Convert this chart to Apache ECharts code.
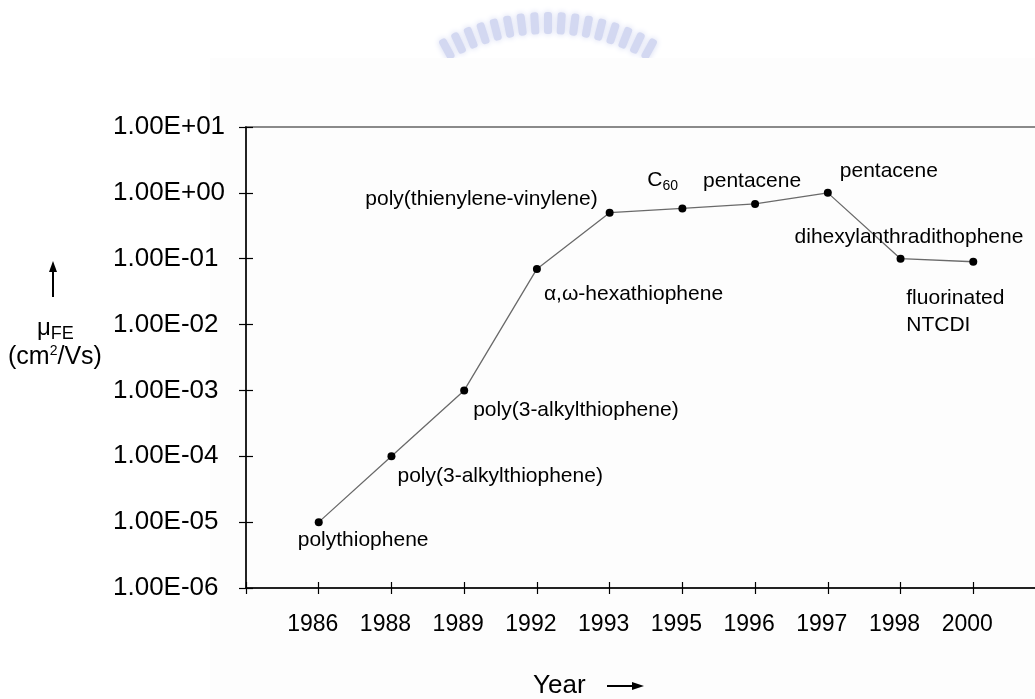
<!DOCTYPE html>
<html>
<head>
<meta charset="utf-8">
<script src="https://cdn.jsdelivr.net/npm/echarts@6/dist/echarts.min.js"></script>
<style>
  html, body { margin: 0; padding: 0; background: #ffffff; }
  #chart { width: 1035px; height: 699px; }
</style>
</head>
<body>
<div id="chart"></div>
<script>
// Field-effect mobility of organic semiconductors by year of report
const years = ['1986', '1988', '1989', '1992', '1993', '1995', '1996', '1997', '1998', '2000'];
const mobility = [1e-5, 1e-4, 1e-3, 0.07, 0.5, 0.58, 0.68, 1.0, 0.1, 0.09];
const compounds = [
  'polythiophene',
  'poly(3-alkylthiophene)',
  'poly(3-alkylthiophene)',
  'α,ω-hexathiophene',
  'poly(thienylene-vinylene)',
  'C{sub|60}',
  'pentacene',
  'pentacene',
  'dihexylanthradithophene',
  'fluorinated\nNTCDI'
];

// where each compound name sits relative to its point: [align, dx, dy]
const labelPlacement = [
  ['left', -21, 18],
  ['left', 6, 20],
  ['left', 9, 20],
  ['left', 7, 25],
  ['right', -12, -13],
  ['left', -35, -28],
  ['center', -3, -23],
  ['left', 12, -22],
  ['left', -106, -22],
  ['left', -67, 50]
];

const FONT = '"Liberation Sans", Arial, sans-serif';

function sciLabel(v) {
  return v.toExponential(2).toUpperCase().replace(/E([+-])(\d)$/, 'E$10$2');
}

const points = years.map((y, i) => {
  const p = labelPlacement[i];
  return {
    value: [i + 1, mobility[i]],
    label: {
      show: true,
      position: 'inside',
      formatter: compounds[i],
      align: p[0],
      verticalAlign: 'middle',
      offset: [p[1], p[2]],
      fontFamily: FONT,
      fontSize: 21,
      lineHeight: 27,
      color: '#000',
      rich: {
        sub: { fontFamily: FONT, fontSize: 14, padding: [12, 0, 0, 0], color: '#000' }
      }
    }
  };
});

// faint crest of bars above the chart
const crest = [];
for (let k = -8; k <= 8; k++) {
  const a = k * 3.6 * Math.PI / 180;
  crest.push({
    type: 'rect',
    x: 548 + 210 * Math.sin(a),
    y: 233 - 210 * Math.cos(a),
    rotation: -a,
    shape: { x: -4, y: -11, width: 8, height: 22, r: 3 },
    style: { fill: '#d3d8f1', shadowBlur: 6, shadowColor: '#d3d8f1' },
    z: -20,
    silent: true
  });
}

const chart = echarts.init(document.getElementById('chart'), null, { renderer: 'canvas' });

const xBase = {
  type: 'value',
  min: 0,
  max: 11,
  interval: 1,
  position: 'bottom',
  splitLine: { show: false }
};
const yBase = {
  type: 'log',
  logBase: 10,
  min: 1e-6,
  max: 10,
  splitNumber: 7,
  position: 'left',
  splitLine: { show: false }
};

chart.setOption({
  animation: false,
  backgroundColor: '#ffffff',
  grid: {
    left: 246, top: 127, width: 800, bottom: 111,
    containLabel: false,
    outerBoundsMode: 'none',
    show: true, borderColor: '#8a8a8a', borderWidth: 2, backgroundColor: 'transparent'
  },
  xAxis: [
    Object.assign({}, xBase, {
      axisLine: { show: true, lineStyle: { color: '#000', width: 1.5 } },
      axisTick: { show: true, inside: false, length: 6, lineStyle: { color: '#000', width: 1.2 } },
      axisLabel: {
        show: true,
        margin: 25,
        padding: [0, 12, 0, 0],
        fontFamily: FONT,
        fontSize: 23,
        color: '#000',
        formatter: v => years[v - 1] || ''
      }
    }),
    Object.assign({}, xBase, {
      axisLine: { show: false },
      axisTick: { show: true, inside: true, length: 6, lineStyle: { color: '#000', width: 1.2 } },
      axisLabel: { show: false }
    })
  ],
  yAxis: [
    Object.assign({}, yBase, {
      axisLine: { show: true, lineStyle: { color: '#000', width: 1.5 } },
      axisTick: { show: true, inside: false, length: 7, lineStyle: { color: '#000', width: 1.2 } },
      axisLabel: {
        show: true,
        margin: 133,
        align: 'left',
        padding: [6, 0, 0, 0],
        fontFamily: FONT,
        fontSize: 26,
        color: '#000',
        formatter: sciLabel
      }
    }),
    Object.assign({}, yBase, {
      axisLine: { show: false },
      axisTick: { show: true, inside: true, length: 7, lineStyle: { color: '#000', width: 1.2 } },
      axisLabel: { show: false }
    })
  ],
  series: [{
    type: 'line',
    xAxisIndex: 0,
    yAxisIndex: 0,
    data: points,
    symbol: 'circle',
    symbolSize: 8,
    itemStyle: { color: '#000' },
    lineStyle: { color: '#6a6a6a', width: 1.3 },
    emphasis: { disabled: true },
    z: 5
  }],
  graphic: crest.concat([
    {
      type: 'rect', silent: true, z: -10,
      shape: { x: 210, y: 58, width: 825, height: 641 },
      style: { fill: '#fdfdfd' }
    },
    // y-axis title: upward arrow, μFE and units
    {
      type: 'line', silent: true, z: 10,
      shape: { x1: 53, y1: 297, x2: 53, y2: 270 },
      style: { stroke: '#000', lineWidth: 2 }
    },
    {
      type: 'polygon', silent: true, z: 10,
      shape: { points: [[53, 261], [49, 272], [57, 272]] },
      style: { fill: '#000' }
    },
    {
      type: 'text', silent: true, z: 10,
      x: 37, y: 328,
      style: {
        text: '{mu|μ}{sub|FE}',
        verticalAlign: 'middle',
        rich: {
          mu: { fontFamily: FONT, fontSize: 24, fill: '#000' },
          sub: { fontFamily: FONT, fontSize: 18, fill: '#000', padding: [12, 0, 0, 0] }
        }
      }
    },
    {
      type: 'text', silent: true, z: 10,
      x: 8, y: 357,
      style: {
        text: '(cm{sup|2}/Vs)',
        verticalAlign: 'middle',
        font: '25px ' + FONT,
        fill: '#000',
        rich: {
          sup: { fontFamily: FONT, fontSize: 14, fill: '#000', padding: [0, 0, 12, 0] }
        }
      }
    },
    // x-axis title with arrow
    {
      type: 'text', silent: true, z: 10,
      x: 533, y: 686,
      style: { text: 'Year', verticalAlign: 'middle', font: '26px ' + FONT, fill: '#000' }
    },
    {
      type: 'line', silent: true, z: 10,
      shape: { x1: 607, y1: 686, x2: 634, y2: 686 },
      style: { stroke: '#000', lineWidth: 2 }
    },
    {
      type: 'polygon', silent: true, z: 10,
      shape: { points: [[644, 686], [632, 682], [632, 690]] },
      style: { fill: '#000' }
    }
  ])
});
</script>
</body>
</html>
